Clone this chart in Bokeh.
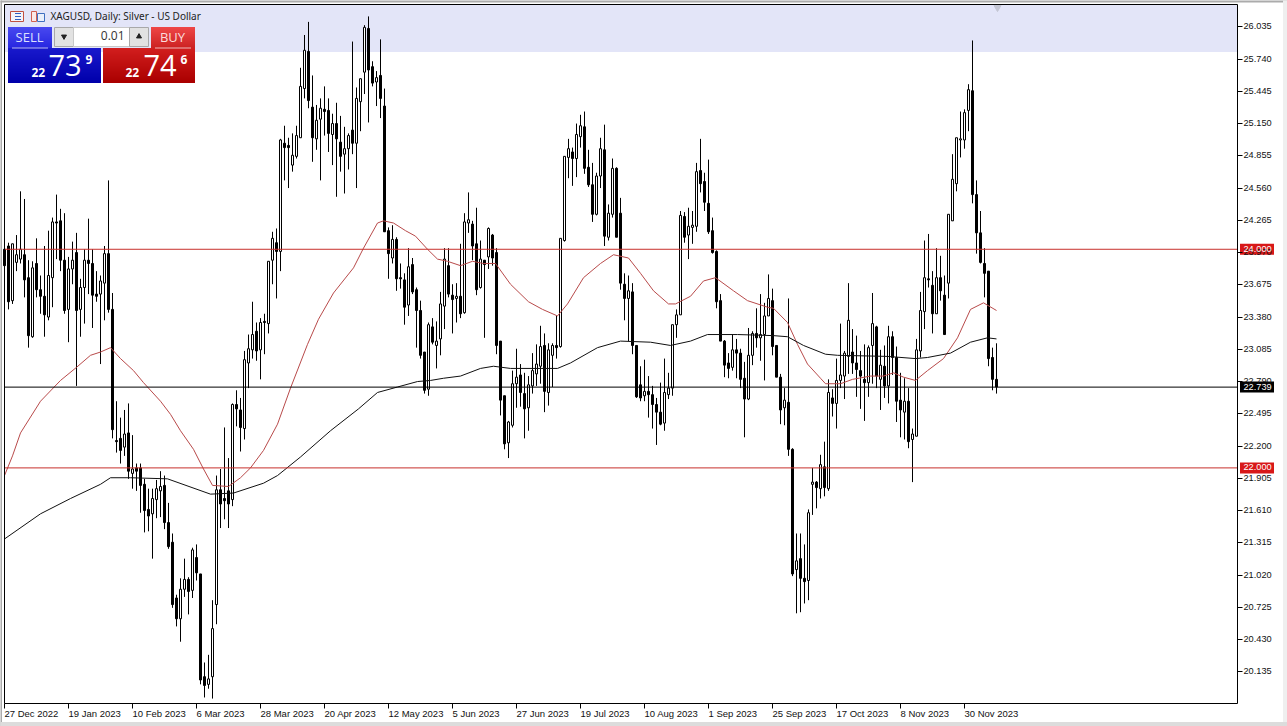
from bokeh.plotting import figure
from bokeh.models import FixedTicker, Label, Range1d, NumeralTickFormatter
from bokeh.embed import file_html
from bokeh.resources import INLINE

symbol_title = "XAGUSD, Daily:  Silver - US Dollar"
price_ticks = [26.035, 25.740, 25.445, 25.150, 24.855, 24.560, 24.265, 23.970, 23.675, 23.380, 23.085,
               22.790, 22.495, 22.200, 21.905, 21.610, 21.315, 21.020, 20.725, 20.430, 20.135]
date_bars = [1, 17, 33, 49, 65, 81, 97, 113, 129, 145, 161, 177, 193, 209, 225, 241]
date_labels = ["27 Dec 2022", "19 Jan 2023", "10 Feb 2023", "6 Mar 2023", "28 Mar 2023", "20 Apr 2023",
               "12 May 2023", "5 Jun 2023", "27 Jun 2023", "19 Jul 2023", "10 Aug 2023", "1 Sep 2023",
               "25 Sep 2023", "17 Oct 2023", "8 Nov 2023", "30 Nov 2023"]

opens = [24.00,24.03,23.53,23.88,23.91,23.95,23.74,23.20,23.87,23.63,23.57,23.38,23.74,24.25,24.26,23.90,23.45,23.82,23.97,23.45,
         23.65,23.90,23.87,23.59,23.59,23.69,23.96,23.45,22.25,22.27,22.19,22.32,21.95,22.00,22.00,21.85,21.62,21.58,21.71,21.79,
         21.84,21.50,21.32,20.81,20.62,20.89,20.98,20.88,21.18,21.03,20.09,20.02,20.09,20.75,21.80,21.72,21.79,21.71,22.58,22.53,
         22.36,22.96,23.08,23.25,23.08,23.34,23.32,23.90,24.06,23.98,24.97,24.95,24.77,24.85,25.02,25.47,25.81,25.30,25.01,25.19,
         25.28,25.27,25.05,25.15,24.98,24.87,24.92,25.09,24.97,25.35,25.62,26.02,25.67,25.53,25.59,25.31,24.17,23.92,24.09,23.74,
         23.72,23.49,23.86,23.63,23.44,23.06,22.72,23.29,23.12,23.18,23.48,23.85,23.58,23.55,23.57,23.42,24.24,24.23,24.05,23.65,
         23.90,23.93,24.13,23.97,23.16,22.66,22.23,22.39,22.77,22.85,22.68,22.55,22.75,22.86,22.93,23.12,22.69,23.03,23.12,23.11,
         24.08,24.84,24.89,24.83,25.03,25.12,24.75,24.59,24.32,24.67,24.91,24.11,24.32,24.74,24.33,23.68,23.55,23.61,23.12,22.76,
         22.66,22.70,22.67,22.58,22.51,22.41,22.67,22.73,23.31,23.40,24.30,24.13,24.20,24.21,24.72,24.62,24.42,24.17,23.98,23.53,
         23.16,22.96,22.92,23.08,23.05,22.82,22.63,23.03,23.23,23.19,23.22,23.39,23.53,23.12,22.83,22.55,22.60,22.17,21.07,21.17,
         20.99,20.97,21.85,21.87,21.81,22.01,21.81,22.64,22.59,22.80,22.84,23.02,23.06,22.96,22.89,22.81,22.78,23.12,23.29,22.81,
         22.93,22.75,23.20,23.01,22.62,22.51,22.61,22.26,22.29,23.07,23.43,23.73,23.67,23.41,23.74,23.58,23.69,24.26,24.60,25.00,
         25.00,25.27,25.45,24.50,24.15,23.87,23.80,23.01,22.81]
highs = [24.01,24.06,24.05,24.13,24.53,24.46,23.90,23.89,24.10,23.76,24.03,24.17,24.29,24.50,24.37,24.33,23.93,24.07,24.15,23.73,
         24.00,24.28,24.00,23.80,23.76,24.03,24.63,23.60,22.61,22.46,22.53,22.59,22.30,22.04,22.04,21.90,21.81,21.81,21.89,21.97,
         21.93,21.68,21.40,20.84,20.99,21.17,21.00,21.27,21.30,21.03,20.22,20.29,20.79,21.93,21.99,22.37,22.09,22.59,22.71,22.64,
         23.07,23.22,23.52,23.33,23.37,23.41,23.89,24.16,24.19,25.01,25.13,25.02,25.06,25.13,25.66,25.96,26.08,25.59,25.32,25.38,
         25.49,25.38,25.24,25.34,25.22,25.12,25.06,25.90,25.48,25.56,26.05,26.13,25.72,25.63,25.92,25.47,24.20,24.22,24.11,23.87,
         23.78,24.01,23.92,23.65,23.53,23.06,23.33,23.37,23.34,23.61,24.01,24.01,23.68,23.69,24.05,24.33,24.52,24.26,24.38,24.08,
         23.90,24.20,24.14,24.01,23.16,22.66,22.43,22.89,23.09,22.95,22.87,22.84,23.05,23.13,23.30,23.23,23.14,23.14,23.39,24.10,
         24.85,25.01,24.93,25.15,25.23,25.26,24.91,24.79,24.70,25.02,25.14,24.41,24.83,24.75,24.47,23.78,23.76,23.69,23.12,22.93,
         22.99,22.84,22.75,22.64,22.78,23.00,22.87,23.31,23.45,24.35,24.34,24.38,24.35,24.79,25.01,24.70,24.82,24.29,23.99,23.59,
         23.17,23.05,23.22,23.18,23.09,22.97,23.28,23.25,23.46,23.59,23.51,23.77,23.64,23.12,22.86,22.73,23.55,22.18,21.40,21.40,
         21.30,21.62,22.00,21.88,22.12,22.24,22.81,22.72,23.00,23.32,23.07,23.69,23.27,23.21,23.07,23.13,23.12,23.60,23.30,23.08,
         23.12,23.30,23.25,23.11,22.87,22.82,22.73,22.36,23.18,23.61,24.08,24.14,23.80,24.01,23.94,23.76,24.32,24.87,25.02,25.26,
         25.28,25.51,25.91,24.63,24.35,24.01,23.80,23.10,23.14]
lows = [23.80,23.45,23.50,23.80,23.87,23.56,23.10,23.19,23.56,23.41,23.20,23.35,23.47,23.91,23.80,23.41,23.15,23.68,22.75,23.20,
        23.32,23.59,23.28,23.52,22.95,23.35,23.42,22.27,22.14,22.04,22.11,21.90,21.81,21.79,21.59,21.41,21.42,21.17,21.54,21.55,
        21.44,21.26,20.72,20.55,20.41,20.82,20.66,20.81,20.97,20.02,19.90,19.98,19.89,20.57,21.45,21.53,21.45,21.65,22.38,22.15,
        22.26,22.73,23.00,22.98,22.81,23.04,23.23,23.68,23.55,23.80,24.63,24.56,24.71,24.83,25.02,25.38,25.29,24.80,24.91,24.63,
        25.04,24.89,24.77,24.48,24.71,24.51,24.73,24.87,24.56,25.08,25.42,25.16,25.49,25.31,25.20,24.16,23.73,23.87,23.62,23.64,
        23.31,23.39,23.59,23.10,23.00,22.68,22.66,23.13,22.91,23.03,23.27,23.56,23.23,23.33,23.37,23.41,24.15,23.90,23.58,23.64,
        23.19,23.82,23.85,23.04,22.48,22.17,22.09,22.37,22.55,22.56,22.27,22.34,22.68,22.75,22.77,22.51,22.57,22.74,23.00,23.10,
        24.07,24.65,24.58,24.66,24.93,24.69,24.57,24.25,24.31,24.56,24.03,24.08,24.29,24.11,23.63,23.35,23.16,23.04,22.64,22.61,
        22.61,22.46,22.36,22.21,22.39,22.34,22.63,22.66,23.19,23.40,24.06,23.91,24.05,24.16,24.52,24.35,24.14,23.96,23.46,23.16,
        22.83,22.82,22.89,22.82,22.73,22.28,22.62,22.94,23.10,22.98,22.80,23.39,23.03,22.83,22.40,22.39,22.11,21.01,20.67,20.68,
        20.76,20.79,21.57,21.63,21.72,21.74,21.79,22.47,22.36,22.73,22.63,22.86,22.86,22.65,22.54,22.43,22.65,22.77,22.73,22.53,
        22.64,22.59,22.85,22.42,22.28,22.26,22.18,21.87,22.29,23.01,23.27,23.65,23.23,23.41,23.53,23.22,23.55,24.26,24.53,24.84,
        24.92,25.08,24.42,23.96,23.87,23.56,22.93,22.71,22.68]
closes = [23.85,23.52,24.05,23.95,24.00,23.72,23.21,23.83,23.63,23.57,23.40,23.76,24.25,24.24,23.90,23.44,23.82,23.90,23.44,23.65,
          23.90,23.87,23.58,23.57,23.71,23.96,23.45,22.35,22.24,22.16,22.31,21.97,21.99,21.97,21.84,21.61,21.56,21.72,21.81,21.83,
          21.50,21.28,20.75,20.62,20.89,20.98,20.87,21.25,21.04,20.06,20.01,20.07,20.53,21.80,21.67,21.70,21.67,22.58,22.54,22.37,
          22.99,23.09,23.22,23.07,23.33,23.33,23.89,24.10,23.98,25.00,24.93,24.93,24.86,25.04,25.49,25.82,25.36,25.02,25.18,25.29,
          25.26,25.06,25.15,25.01,24.85,24.92,25.04,24.97,25.38,25.56,26.03,25.64,25.52,25.57,25.38,24.16,23.96,24.09,23.73,23.73,
          23.47,23.84,23.61,23.44,23.03,22.71,23.31,23.15,23.16,23.50,23.91,23.59,23.54,23.57,23.41,24.25,24.27,24.03,23.63,23.91,
          23.86,24.19,23.92,23.12,22.62,22.22,22.42,22.77,22.83,22.69,22.54,22.76,22.89,22.95,23.11,22.70,23.08,23.12,23.10,24.10,
          24.85,24.92,24.83,25.05,25.13,24.74,24.59,24.32,24.67,24.92,24.12,24.33,24.74,24.11,23.69,23.55,23.62,23.12,22.65,22.64,
          22.70,22.67,22.58,22.51,22.40,22.69,22.73,23.31,23.40,24.31,24.11,24.21,24.22,24.71,24.60,24.43,24.16,23.97,23.52,23.16,
          22.94,22.91,23.08,23.05,22.81,22.63,23.03,23.23,23.19,23.22,23.39,23.55,23.11,22.83,22.53,22.62,22.17,21.03,21.15,20.99,
          20.96,21.59,21.87,21.82,22.03,21.82,22.69,22.59,22.80,22.85,23.05,23.35,22.96,22.90,22.84,22.78,23.10,23.32,22.84,22.94,
          22.75,23.20,23.01,22.61,22.53,22.61,22.24,22.31,23.08,23.44,23.74,23.72,23.41,23.74,23.62,23.22,24.32,24.64,25.02,25.01,
          25.25,25.46,24.50,24.15,23.88,23.78,23.00,22.81,22.74]

red_ma_bars = [1,3,5,10,15,19,22.5,25,27.5,30,33.25,35.75,40,42.5,45,48.25,50.75,53,57,60,62.5,65.75,69.25,72.5,76.75,79.5,
               83.25,88.25,90.75,94.25,95.75,98.25,101.25,103.75,106.75,109.25,111.75,115,118,120.75,123.75,127.5,132,135.5,
               139.25,141.75,145.75,150,153.25,157,160,163.25,167,168.75,172.5,175.75,178.75,183.25,186.75,191.75,193.25,
               196.75,199.25,201.75,205,206.25,210,213,217.5,220.75,223.25,225.75,228.75,231.75,235.75,239.25,242.5,245.75,249]
red_ma = [21.93,22.11,22.32,22.61,22.80,22.92,23.03,23.06,23.10,23.00,22.89,22.78,22.61,22.49,22.34,22.17,21.99,21.84,21.83,21.91,
          22.00,22.16,22.40,22.73,23.13,23.36,23.60,23.83,24.01,24.24,24.26,24.24,24.17,24.12,24.00,23.91,23.89,23.85,23.89,23.87,
          23.87,23.68,23.52,23.45,23.39,23.50,23.74,23.87,23.95,23.92,23.78,23.62,23.50,23.50,23.57,23.71,23.74,23.62,23.53,23.47,
          23.46,23.33,23.13,22.95,22.82,22.77,22.77,22.81,22.84,22.84,22.87,22.83,22.80,22.89,23.00,23.19,23.45,23.51,23.44]
black_ma_bars = [1,10,17.5,25,27.5,32.5,41.75,52.5,58.25,65.75,69.25,75,82.5,89.5,94.25,99.25,104.25,107.5,110.75,115,120,123.25,
                 127.5,139.25,142.5,149.25,155,162.5,167.5,172.5,176.75,184.25,193.25,196.75,200.75,206.25,209.25,221.75,228.75,
                 231.75,237.5,242.5,246.75,249]
black_ma = [21.35,21.58,21.72,21.85,21.91,21.91,21.90,21.76,21.77,21.86,21.93,22.10,22.34,22.54,22.69,22.74,22.79,22.80,22.82,22.84,
            22.91,22.93,22.91,22.91,22.96,23.10,23.16,23.15,23.12,23.16,23.22,23.22,23.21,23.20,23.12,23.04,23.03,23.02,23.00,23.01,
            23.05,23.15,23.19,23.18]
level_high = 24.000
level_low = 22.000
bid = 22.739

SCALE = 109.32
Y0 = 26.3


def px(x):
    return x / 4


def py(y):
    return 26.035 - (y - Y0) / SCALE


def yof(price):
    return Y0 + (26.035 - price) * SCALE


p = figure(width=1287, height=726, output_backend="svg", toolbar_location=None,
           x_range=Range1d(px(0), px(1287)), y_range=Range1d(py(726), py(0)),
           min_border=0, background_fill_color="white", border_fill_color="white",
           outline_line_color=None)
p.grid.visible = False

# real axes, fixed to the chart's right and bottom edges
p.yaxis.fixed_location = px(1237)
p.xaxis.fixed_location = py(703)
yaxis = p.yaxis[0]
yaxis.ticker = FixedTicker(ticks=price_ticks)
yaxis.formatter = NumeralTickFormatter(format="0.000")
yaxis.axis_line_color = None
yaxis.major_tick_in = 5
yaxis.major_tick_out = 0
yaxis.minor_tick_line_color = None
yaxis.major_tick_line_color = "black"
yaxis.major_label_text_color = None
yaxis.major_label_text_font_size = "1px"

xaxis = p.xaxis[0]
xaxis.ticker = FixedTicker(ticks=date_bars)
xaxis.axis_line_color = None
xaxis.major_tick_in = 0
xaxis.major_tick_out = 5
xaxis.minor_tick_line_color = None
xaxis.major_label_text_color = None
xaxis.major_label_text_font_size = "1px"


def rect(x0, y0, x1, y1, fill, line=None):
    d = 0 if line else 0.5
    p.quad(left=[px(x0 - d)], right=[px(x1 - d)], top=[py(y0 - d)], bottom=[py(y1 - d)], fill_color=fill, fill_alpha=1,
           line_color=line if line else None, line_width=1)


# window edges and pale band
rect(0, 0, 1287, 2.5, "#ABABAB")
rect(0, 0, 2, 726, "#ABABAB")
rect(1283, 0, 1287, 726, "#EFEFEF")
rect(0, 722, 1287, 726, "#DCDCDC")
rect(5, 5, 1237, 52, "#E3E5F8")

bars = list(range(1, len(opens) + 1))
p.segment(bars, lows, bars, highs, line_color="black", line_width=1)
up = [i for i in range(len(opens)) if closes[i] >= opens[i]]
dn = [i for i in range(len(opens)) if closes[i] < opens[i]]
hw = 0.25
p.quad(left=[bars[i] - hw for i in up], right=[bars[i] + hw for i in up],
       bottom=[opens[i] for i in up], top=[closes[i] for i in up],
       fill_color="white", fill_alpha=1, line_color="black", line_width=1)
p.quad(left=[bars[i] - hw for i in dn], right=[bars[i] + hw for i in dn],
       bottom=[closes[i] for i in dn], top=[opens[i] for i in dn],
       fill_color="black", fill_alpha=1, line_color="black", line_width=1)

p.line(red_ma_bars, red_ma, line_color="#B84A4A", line_width=1)
p.line(black_ma_bars, black_ma, line_color="#101010", line_width=1)

xe = [px(4), px(1237)]
p.line(xe, [level_high, level_high], line_color="#C8302C", line_width=1)
p.line(xe, [level_low, level_low], line_color="#C8302C", line_width=1)
p.line(xe, [bid, bid], line_color="black", line_width=1)

# chart frame
p.line([px(4), px(1237), px(1237), px(4), px(4)],
       [py(4), py(4), py(703), py(703), py(4)], line_color="black", line_width=1)

p.scatter([px(997)], [py(7)], marker="inverted_triangle", size=7, color="#C4C6D4")


def lab(xp, yp, text, size, color, align="left", style="normal", font="Noto Sans"):
    p.add_layout(Label(x=px(xp), y=py(yp), text=text, text_font=font, text_font_size=f"{size}px",
                       text_color=color, text_align=align, text_baseline="middle", text_font_style=style))


def grad(x0, y0, x1, y1, c0, c1):
    n = y1 - y0
    for k in range(n):
        t = k / max(n - 1, 1)
        c = tuple(int(c0[j] + (c1[j] - c0[j]) * t) for j in range(3))
        p.quad(left=[px(x0 - 0.5)], right=[px(x1 - 0.5)], top=[py(y0 + k - 0.5)], bottom=[py(y1 - 0.5)],
               fill_color="#%02x%02x%02x" % c, fill_alpha=1, line_color=None)


# trade panel
grad(8, 27, 52, 48, (72, 72, 240), (40, 40, 225))
grad(8, 48, 101, 83, (25, 25, 205), (0, 0, 170))
grad(151, 27, 195, 48, (238, 70, 70), (205, 35, 35))
grad(103, 48, 195, 83, (210, 30, 30), (170, 0, 0))
rect(12, 47.5, 48, 48.5, "#B8B8F0")
rect(155, 47.5, 191, 48.5, "#F0B8B8")
rect(54, 27, 73, 46, "#E2E2E2", "#A8A8A8")
rect(73, 27, 129, 46, "#FFFFFF", "#C8C8C8")
rect(129, 27, 148, 46, "#E2E2E2", "#A8A8A8")
p.scatter([px(63.5)], [py(36)], marker="inverted_triangle", size=5, color="#222222")
p.scatter([px(138.5)], [py(36)], marker="triangle", size=5, color="#222222")

lab(29, 36, "SELL", 13, "#DDE0FF", "center", font="Open Sans")
lab(172, 36, "BUY", 13, "#FBDCDC", "center", font="Open Sans")
lab(124, 35, "0.01", 12, "#333333", "right", font="Open Sans")
lab(31, 72, "22", 12, "white", style="bold", font="Open Sans")
lab(48, 65, "73", 29, "white", font="Open Sans")
lab(85, 59, "9", 12, "white", style="bold", font="Open Sans")
lab(125, 72, "22", 12, "white", style="bold", font="Open Sans")
lab(143, 65, "74", 29, "white", font="Open Sans")
lab(180, 59, "6", 12, "white", style="bold", font="Open Sans")

# title icons and title
rect(10, 11, 23, 21, "#F4F4FA", "#C05040")
rect(15, 13, 21, 14, "#3060C0")
rect(15, 16, 21, 17, "#3060C0")
rect(15, 19, 21, 20, "#3060C0")
rect(31, 11, 36, 21, "#FBE9E6", "#D06050")
rect(37, 13, 44, 21, "#EAF0FB", "#4070C0")
lab(50, 15, symbol_title, 10, "#222222", font="Noto Sans")

# price scale labels
for val in price_ticks:
    lab(1243, yof(val) - 0.5, "%.3f" % val, 9.2, "#111111", font="Liberation Sans")

# price tags
for val, col in ((level_high, "#D81818"), (level_low, "#D81818"), (bid, "#000000")):
    yp = yof(val)
    rect(1240, yp - 5, 1274, yp + 6, col)
    lab(1243, yp - 0.5, "%.3f" % val, 9.2, "white", font="Liberation Sans")

# date labels, left aligned at their ticks
for b, t in zip(date_bars, date_labels):
    lab(4 * b, 712.5, t, 9.5, "#111111", font="Liberation Sans")

open("out.html", "w").write(file_html(p, INLINE))
